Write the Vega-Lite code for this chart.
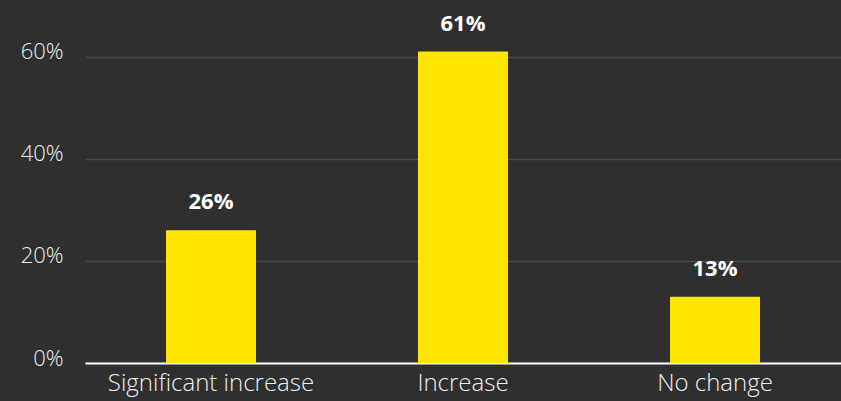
{
  "$schema": "https://vega.github.io/schema/vega-lite/v6.json",
  "width": 756,
  "height": 363,
  "autosize": "none",
  "padding": {"left": 85, "top": 0, "right": 0, "bottom": 38},
  "background": "#2f2f2f",
  "config": {
    "view": {"stroke": null},
    "font": "Open Sans"
  },
  "data": {
    "values": [
      {"category": "Significant increase", "value": 26, "label": "26%"},
      {"category": "Increase", "value": 61, "label": "61%"},
      {"category": "No change", "value": 13, "label": "13%"}
    ]
  },
  "encoding": {
    "x": {
      "field": "category",
      "type": "nominal",
      "sort": null,
      "scale": {"paddingInner": 0.643, "paddingOuter": 0.3215},
      "axis": {
        "title": null,
        "labelAngle": 0,
        "labelFont": "Open Sans",
        "labelFontSize": 24,
        "labelFontWeight": 300,
        "labelColor": "#eeeeee",
        "labelPadding": 8,
        "labelLimit": 0,
        "ticks": false,
        "domainColor": "#ffffff",
        "domainWidth": 2,
        "grid": false
      }
    },
    "y": {
      "field": "value",
      "type": "quantitative",
      "scale": {"domain": [0, 71.1], "nice": false},
      "axis": {
        "title": null,
        "values": [0, 20, 40, 60],
        "labelExpr": "datum.value + '%'",
        "labelFont": "Open Sans",
        "labelFontSize": 22,
        "labelFontWeight": 300,
        "labelColor": "#eeeeee",
        "labelPadding": 22,
        "labelOffset": -5,
        "ticks": false,
        "domain": false,
        "grid": true,
        "gridColor": "#4a4a4a",
        "gridWidth": 1.5
      }
    }
  },
  "layer": [
    {
      "mark": {"type": "bar", "color": "#ffe600"}
    },
    {
      "mark": {
        "type": "text",
        "dy": -21,
        "baseline": "alphabetic",
        "fontSize": 22,
        "fontWeight": "bold",
        "color": "#ffffff",
        "font": "Open Sans"
      },
      "encoding": {
        "text": {"field": "label", "type": "nominal"}
      }
    }
  ]
}
